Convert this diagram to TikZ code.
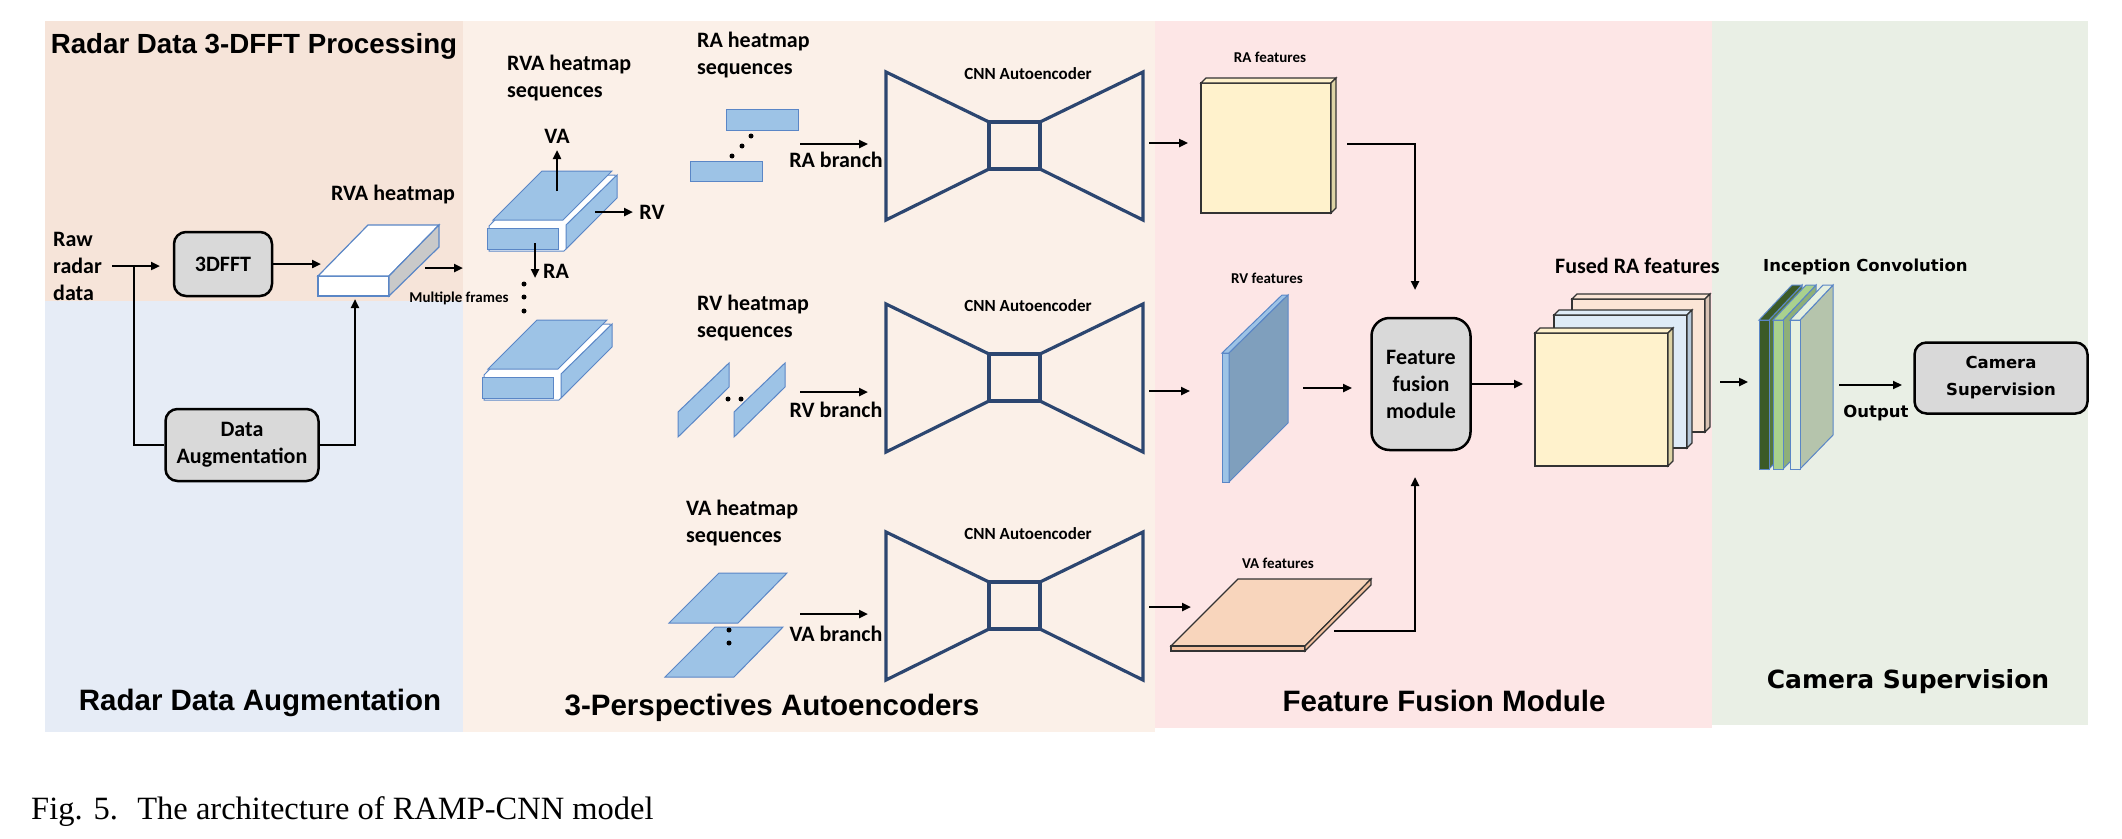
\documentclass[tikz,border=0pt]{standalone}
\usepackage{fontspec}
\setmainfont{Carlito}
\newfontfamily\arialfont{Liberation Sans}
\newfontfamily\dejafont{DejaVu Sans}
\newfontfamily\timesfont{Liberation Serif}
\usetikzlibrary{calc,arrows.meta}

\definecolor{bgpeach}{HTML}{F6E4D9}
\definecolor{bgblue}{HTML}{E6ECF6}
\definecolor{bgmid}{HTML}{FBF0E8}
\definecolor{bgpink}{HTML}{FDE6E6}
\definecolor{bggreen}{HTML}{E9EFE5}
\definecolor{plateblue}{HTML}{9DC3E6}
\definecolor{plateedge}{HTML}{5A86C6}
\definecolor{aenavy}{HTML}{2C4670}
\definecolor{boxgray}{HTML}{D9D9D9}
\definecolor{sidegray}{HTML}{C9C9C9}
\definecolor{featyellow}{HTML}{FFF2CC}
\definecolor{featyellowside}{HTML}{DDD3A5}
\definecolor{rvlight}{HTML}{9DC3E6}
\definecolor{rvdark}{HTML}{7F9FBD}
\definecolor{vatop}{HTML}{F8D5BC}
\definecolor{vaside}{HTML}{F2C09E}
\definecolor{fusedblue}{HTML}{DEEBF7}
\definecolor{fusedblueside}{HTML}{B7C9DA}
\definecolor{fusedpeach}{HTML}{FBE5D6}
\definecolor{fusedpeachside}{HTML}{D9C3B4}
\definecolor{incdark}{HTML}{3B5A27}
\definecolor{incdarkside}{HTML}{55783F}
\definecolor{inclight}{HTML}{A9D18E}
\definecolor{inclightside}{HTML}{8EAF78}
\definecolor{incpale}{HTML}{E6F0E0}
\definecolor{incpaleside}{HTML}{B5C4AC}

\newcommand{\featplate}[6]{
  \filldraw[featline,fill=#5] (#1,#2) rectangle ++(#3,#4);
  \filldraw[featline,fill=#5] (#1,#2) -- ++(5,-5) -- ++(#3,0) -- ++(-5,5) -- cycle;
  \filldraw[featline,fill=#6] (#1+#3,#2) -- ++(5,-5) -- ++(0,#4) -- ++(-5,5) -- cycle;
}
\newcommand{\inclayer}[3]{
  \filldraw[incline,fill=#3] (#1+10,320) -- ++(33,-35) -- ++(0,150) -- (#1+10,469) -- cycle;
  \filldraw[incline,fill=#2] (#1,320) -- ++(33,-35) -- ++(10,0) -- (#1+10,320) -- cycle;
  \filldraw[incline,fill=#2] (#1,320) rectangle (#1+10,469);
}

\begin{document}
\begin{tikzpicture}[x=1pt,y=-1pt,
  lbl/.style={font=\bfseries\fontsize{22}{27}\selectfont,align=left,inner sep=0pt},
  small/.style={font=\bfseries\fontsize{15}{18}\selectfont,inner sep=0pt},
  aelbl/.style={font=\bfseries\fontsize{17}{20}\selectfont,inner sep=0pt},
  title/.style={font=\arialfont\bfseries\fontsize{29.5}{34}\selectfont,inner sep=0pt},
  tahoma/.style={font=\dejafont\bfseries\fontsize{16.5}{27}\selectfont,align=center,inner sep=0pt},
  graybox/.style={draw,line width=2.5pt,fill=boxgray,rounded corners=12pt,align=center,inner sep=2pt,
    font=\bfseries\fontsize{22}{27}\selectfont},
  arr/.style={line width=2.5pt,-{Triangle[length=9pt,width=8pt]}},
  link/.style={line width=2.5pt},
  plate/.style={fill=plateblue,draw=plateedge,line width=1pt},
  ae/.style={draw=aenavy,line width=3.2pt},
  featline/.style={draw=black!80,line width=1.2pt},
  incline/.style={draw=plateedge,line width=1pt},
  seqdot/.style={circle,fill=black,inner sep=0pt,minimum size=5pt}]

\useasboundingbox (0,0) rectangle (2122,838);
\fill[bgpeach] (45,21) rectangle (463,301);
\fill[bgblue] (45,301) rectangle (463,732);
\fill[bgmid] (463,21) rectangle (1155,732);
\fill[bgpink] (1155,21) rectangle (1712,728);
\fill[bggreen] (1712,21) rectangle (2088,725);

\node[title,font=\arialfont\bfseries\fontsize{27.7}{32}\selectfont] (ttlfft) at (254,46) {Radar Data 3-DFFT Processing};
\node[title] (ttlaug) at (260,703) {Radar Data Augmentation};
\node[title] (ttlae) at (772,708) {3-Perspectives Autoencoders};
\node[title] (ttlfus) at (1444,701) {Feature Fusion Module};
\node[title,font=\dejafont\bfseries\fontsize{25}{30}\selectfont] (ttlcam) at (1908,682) {Camera Supervision};

% radar data processing
\node[lbl,anchor=west] (raw) at (53,266) {Raw\\radar\\data};
\node[graybox,minimum width=98pt,minimum height=64pt] (fft) at (223,264) {3DFFT};
\node[graybox,minimum width=153pt,minimum height=72pt] (aug) at (242,445) {Data\\Augmentation};
\filldraw[fill=white,draw=plateedge,line width=1.2pt] (318,276) rectangle (389,296);
\filldraw[fill=white,draw=plateedge,line width=1.2pt] (318,276) -- (368,225) -- (439,225) -- (389,276) -- cycle;
\filldraw[fill=sidegray,draw=plateedge,line width=1.2pt] (389,276) -- (439,225) -- (439,247) -- (389,296) -- cycle;
\node[lbl] (rvalbl) at (393,195) {RVA heatmap};
\node[small] (frames) at (459,298) {Multiple frames};
\coordinate (rawout) at (112,266);
\coordinate (fftin) at (160,266);
\coordinate (split) at (134,266);
\coordinate (rvain) at (321,264);
\coordinate (rvabot) at (355,299);
\coordinate (rvaout) at (425,268);
\coordinate (seqin) at (463,268);
\draw[arr] (rawout) -- (fftin);
\draw[link] (split) |- (aug.west);
\draw[arr] (fft.east) -- (rvain);
\draw[arr] (aug.east) -| (rvabot);
\draw[arr] (rvaout) -- (seqin);

% heatmap sequences
\node[lbl,anchor=west] (rvaseq) at (507,78) {RVA heatmap\\sequences};
\node[lbl,anchor=west] (raseq) at (697,55) {RA heatmap\\sequences};
\node[lbl,anchor=west] (rvseq) at (697,318) {RV heatmap\\sequences};
\node[lbl,anchor=west] (vaseq) at (686,523) {VA heatmap\\sequences};
\foreach \dx/\dy in {0/0,-5/149}{
  \begin{scope}[shift={(\dx,\dy)}]
    \filldraw[fill=white,draw=plateedge,line width=1pt] (489,226) -- (539,175) -- (615,175) -- (615,199) -- (564,251) -- (489,251) -- cycle;
    \filldraw[plate] (493,220) -- (542,171) -- (612,171) -- (563,220) -- cycle;
    \filldraw[plate] (487,228) rectangle (558,249);
    \filldraw[plate] (566,249) -- (566,225) -- (617,175) -- (617,198) -- cycle;
  \end{scope}}
\coordinate (va0) at (557,191);
\coordinate (va1) at (557,150);
\coordinate (rv0) at (595,212);
\coordinate (rv1) at (633,212);
\coordinate (ra0) at (535,243);
\coordinate (ra1) at (535,278);
\draw[arr] (va0) -- (va1);
\draw[arr] (rv0) -- (rv1);
\draw[arr] (ra0) -- (ra1);
\node[lbl] (va) at (557,136) {VA};
\node[lbl] (rv) at (652,212) {RV};
\node[lbl] (ra) at (556,271) {RA};
\foreach \y in {284,297,311} \node[seqdot] (fd\y) at (524,\y) {};

\filldraw[plate] (726,109) rectangle (798,130);
\filldraw[plate] (690,161) rectangle (762,181);
\foreach \x/\y in {751/136,742/146,732/156} \node[seqdot] (rad\x) at (\x,\y) {};
\foreach \dx in {0,56}
  \filldraw[plate] (678+\dx,437) -- (678+\dx,412) -- (729+\dx,363) -- (729+\dx,387) -- cycle;
\foreach \x in {728,741} \node[seqdot] (rvd\x) at (\x,399) {};
\foreach \dx/\dy in {0/0,-4/54}
  \filldraw[plate] (669+\dx,623+\dy) -- (719+\dx,573+\dy) -- (787+\dx,573+\dy) -- (738+\dx,623+\dy) -- cycle;
\foreach \y in {630,643} \node[seqdot] (vad\y) at (729,\y) {};

\foreach \y/\t/\ly in {144/RA/160,392/RV/410,614/VA/634}{
  \coordinate (\t b0) at (800,\y);
  \coordinate (\t b1) at (868,\y);
  \draw[arr] (\t b0) -- (\t b1);
  \node[lbl] (\t br) at (836,\ly) {\t{} branch};
}

% autoencoders
\foreach \dy/\n in {0/1,232/2,460/3}{
  \draw[ae] (886,72+\dy) -- (989,122+\dy) -- (989,169+\dy) -- (886,220+\dy) -- cycle;
  \draw[ae] (989,122+\dy) rectangle (1040,169+\dy);
  \draw[ae] (1040,122+\dy) -- (1143,72+\dy) -- (1143,220+\dy) -- (1040,169+\dy) -- cycle;
  \node[aelbl] (ae\n) at (1028,74+\dy) {CNN Autoencoder};
}

% feature fusion
\foreach \y/\e/\n in {143/1188/1,391/1190/2,607/1191/3}{
  \coordinate (aeout\n) at (1149,\y);
  \coordinate (featin\n) at (\e,\y);
  \draw[arr] (aeout\n) -- (featin\n);
}
\featplate{1201}{83}{130}{130}{featyellow}{featyellowside}
\node[small] (ralbl) at (1270,57) {RA features};
\filldraw[fill=rvlight,draw=plateedge,line width=1pt] (1222,353) -- (1282,295) -- (1288,295) -- (1229,353) -- cycle;
\filldraw[fill=rvlight,draw=plateedge,line width=1pt] (1222,353) rectangle (1229,482);
\filldraw[fill=rvdark,draw=plateedge,line width=1pt] (1229,353) -- (1288,295) -- (1288,423) -- (1229,482) -- cycle;
\node[small] (rvlbl) at (1267,278) {RV features};
\filldraw[featline,fill=vatop] (1171,646) -- (1238,579) -- (1371,579) -- (1305,646) -- cycle;
\filldraw[featline,fill=vaside] (1171,646) rectangle (1305,651);
\filldraw[featline,fill=vaside] (1305,646) -- (1371,579) -- (1371,585) -- (1305,651) -- cycle;
\node[small] (valbl) at (1278,563) {VA features};

\node[graybox,minimum width=99pt,minimum height=132pt,rounded corners=18pt] (fus) at (1421,384) {Feature\\fusion\\module};
\coordinate (raout) at (1347,144);
\coordinate (fustop) at (1415,290);
\coordinate (rvout) at (1303,388);
\coordinate (fusin) at (1352,388);
\coordinate (vaout) at (1334,631);
\coordinate (fusbot) at (1415,477);
\coordinate (fusedin) at (1523,384);
\draw[arr] (raout) -| (fustop);
\draw[arr] (rvout) -- (fusin);
\draw[arr] (vaout) -| (fusbot);
\draw[arr] (fus.east) -- (fusedin);

\featplate{1572}{299}{133}{133}{fusedpeach}{fusedpeachside}
\featplate{1554}{315}{133}{133}{fusedblue}{fusedblueside}
\featplate{1535}{333}{133}{133}{featyellow}{featyellowside}
\node[lbl,anchor=west] (fusedlbl) at (1555,266) {Fused RA features};

% camera supervision
\coordinate (fusedout) at (1720,382);
\coordinate (incin) at (1748,382);
\draw[arr] (fusedout) -- (incin);
\inclayer{1759}{incdark}{incdarkside}
\inclayer{1773}{inclight}{inclightside}
\inclayer{1790}{incpale}{incpaleside}
\node[tahoma,anchor=west] (inclbl) at (1763,267) {Inception Convolution};
\coordinate (incout) at (1839,385);
\coordinate (camin) at (1902,385);
\draw[arr,line width=2pt] (incout) -- (camin);
\node[tahoma] (outlbl) at (1876,413) {Output};
\node[graybox,font=\dejafont\bfseries\fontsize{16.5}{27}\selectfont,minimum width=173pt,minimum height=71pt] (cam) at (2001,378) {Camera\\Supervision};

\node[anchor=west,inner sep=0pt,font=\timesfont\fontsize{32.5}{38}\selectfont] (cap) at (31,812) {Fig. 5.\hspace{0.6em}The architecture of RAMP-CNN model};
\end{tikzpicture}
\end{document}
